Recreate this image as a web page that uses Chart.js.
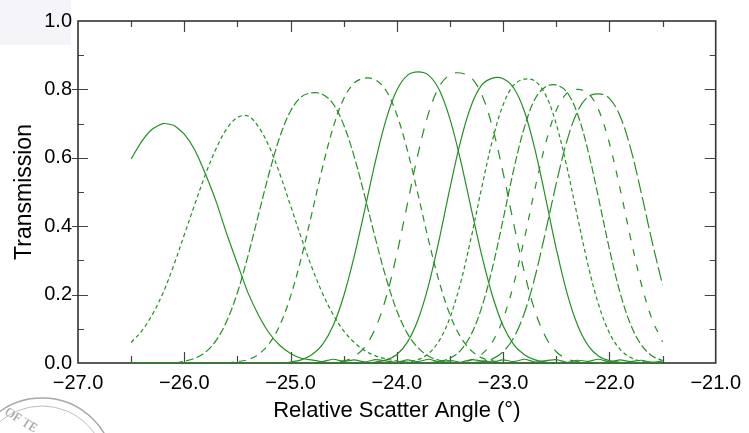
<!DOCTYPE html>
<html>
<head>
<meta charset="utf-8">
<title>Transmission vs relative scatter angle</title>
<script src="https://cdn.jsdelivr.net/npm/chart.js@4"></script>
<style>
    body { margin: 0; padding: 0; background: #fff; }
    #wrap { position: relative; width: 749px; height: 433px; overflow: hidden; }
    .corner { position: absolute; left: 0; top: 0; width: 71px; height: 45px; background: #f5f5f9; }
    #seal { position: absolute; left: 0; top: 0; }
    #chart { position: absolute; left: 0; top: 0; }
</style>
</head>
<body>
<div id="wrap">
    <div class="corner"></div>
    <svg id="seal" width="749" height="433">
        <circle cx="42" cy="470" r="72" fill="none" stroke="#a8a8a8" stroke-width="1.5"/>
        <circle cx="42" cy="470" r="64" fill="none" stroke="#bdbdbd" stroke-width="1"/>
        <text x="4" y="414" font-family="Liberation Serif" font-size="13" fill="#9a9a9a" transform="rotate(32 4 414)">OF TE</text>
    </svg>
    <canvas id="chart" width="749" height="433"></canvas>
</div>

<script>
    // angle grid (degrees), every 0.1 from -26.5 to -21.5
    var angles = [-26.5,-26.4,-26.3,-26.2,-26.1,-26.0,-25.9,-25.8,-25.7,-25.6,
                  -25.5,-25.4,-25.3,-25.2,-25.1,-25.0,-24.9,-24.8,-24.7,-24.6,
                  -24.5,-24.4,-24.3,-24.2,-24.1,-24.0,-23.9,-23.8,-23.7,-23.6,
                  -23.5,-23.4,-23.3,-23.2,-23.1,-23.0,-22.9,-22.8,-22.7,-22.6,
                  -22.5,-22.4,-22.3,-22.2,-22.1,-22.0,-21.9,-21.8,-21.7,-21.6,
                  -21.5];

    // transmission of each setting
    var curve1 = [0.597,0.648,0.684,0.700,0.695,0.669,0.622,0.552,0.472,0.377,
                  0.290,0.205,0.139,0.087,0.051,0.028,0.014,0.009,0.004,0.011,
                  0.005,0.009,0.003,0.010,0.006,0.002,0.009,0.004,0.011,0.003,
                  0.008,0.002,0.010,0.006,0.003,0.009,0.004,0.011,0.003,0.007,
                  0.010,0.002,0.008,0.005,0.011,0.003,0.009,0.004,0.008,0.002,
                  0.006];
    var curve2 = [0.060,0.094,0.142,0.205,0.285,0.375,0.465,0.552,0.627,0.685,
                  0.718,0.722,0.690,0.632,0.552,0.460,0.367,0.280,0.204,0.142,
                  0.094,0.060,0.036,0.021,0.012,0.006,0.003,0,0,0,
                  0,0,0,0,0,0,0,0,0,0,
                  0,0,0,0,0,0,0,0,0,0,
                  0];
    var curve3 = [0,0,0,0,0,0.005,0.014,0.032,0.066,0.123,
                  0.206,0.314,0.436,0.557,0.662,0.737,0.778,0.790,0.786,0.758,
                  0.696,0.602,0.485,0.362,0.247,0.153,0.086,0.044,0.020,0.008,
                  0.003,0,0,0,0,0,0,0,0,0,
                  0,0,0,0,0,0,0,0,0,0,
                  0];
    var curve4 = [0,0,0,0,0,0,0,0,0,0,
                  0.004,0.010,0.026,0.057,0.111,0.195,0.306,0.437,0.571,0.688,
                  0.773,0.819,0.833,0.828,0.796,0.726,0.621,0.492,0.357,0.236,
                  0.141,0.076,0.036,0.015,0.006,0.002,0,0,0,0,
                  0,0,0,0,0,0,0,0,0,0,
                  0];
    var curve5 = [0,0,0,0,0,0,0,0,0,0,
                  0,0,0,0,0,0.003,0.009,0.024,0.054,0.109,
                  0.196,0.313,0.451,0.592,0.713,0.798,0.841,0.851,0.841,0.798,
                  0.713,0.592,0.451,0.313,0.196,0.109,0.054,0.024,0.009,0.003,
                  0,0,0,0,0,0,0,0,0,0,
                  0];
    var curve6 = [0,0,0,0,0,0,0,0,0,0,
                  0,0,0,0,0,0,0,0,0,0.002,
                  0.006,0.019,0.047,0.103,0.193,0.319,0.466,0.612,0.732,0.809,
                  0.843,0.848,0.834,0.784,0.689,0.556,0.406,0.265,0.152,0.076,
                  0.033,0.012,0.004,0,0,0,0,0,0,0,
                  0];
    var curve7 = [0,0,0,0,0,0,0,0,0,0,
                  0,0,0,0,0,0,0,0,0,0,
                  0,0,0,0.003,0.009,0.025,0.061,0.127,0.229,0.363,
                  0.512,0.649,0.753,0.813,0.833,0.831,0.804,0.736,0.624,0.482,
                  0.334,0.206,0.111,0.051,0.020,0.007,0.002,0,0,0,
                  0];
    var curve8 = [0,0,0,0,0,0,0,0,0,0,
                  0,0,0,0,0,0,0,0,0,0,
                  0,0,0,0,0,0,0.003,0.010,0.028,0.066,
                  0.133,0.235,0.368,0.515,0.652,0.755,0.813,0.830,0.824,0.784,
                  0.698,0.573,0.427,0.285,0.169,0.088,0.040,0.016,0.005,0.002,
                  0.001];
    var curve9 = [0,0,0,0,0,0,0,0,0,0,
                  0,0,0,0,0,0,0,0,0,0,
                  0,0,0,0,0,0,0,0,0.001,0.005,
                  0.014,0.037,0.084,0.164,0.279,0.420,0.566,0.689,0.772,0.808,
                  0.813,0.792,0.728,0.619,0.479,0.333,0.206,0.112,0.053,0.021,
                  0.007];
    var curve10 = [0,0,0,0,0,0,0,0,0,0,
                   0,0,0,0,0,0,0,0,0,0,
                   0,0,0,0,0,0,0,0,0,0,
                   0.001,0.003,0.009,0.026,0.062,0.129,0.231,0.364,0.510,0.642,
                   0.739,0.789,0.800,0.789,0.739,0.642,0.510,0.364,0.231,0.129,
                   0.062];
    var curve11 = [0,0,0,0,0,0,0,0,0,0,
                   0,0,0,0,0,0,0,0,0,0,
                   0,0,0,0,0,0,0,0,0,0,
                   0,0,0.001,0.004,0.012,0.033,0.074,0.146,0.252,0.385,
                   0.525,0.649,0.736,0.779,0.787,0.774,0.722,0.627,0.497,0.357,
                   0.228];

    var curves = [curve1, curve2, curve3, curve4, curve5, curve6, curve7, curve8, curve9, curve10, curve11];
    var dashes = [[], [4,3], [8,3], [7,5], [], [10,9], [], [4,3], [8,3], [7,9], [14,4]];

    var xTickLabels = [-27, -26, -25, -24, -23, -22, -21];
    var yTickLabels = [0, 0.2, 0.4, 0.6, 0.8, 1.0];

    var green = '#229022';

    var datasets = curves.map(function (c, k) {
        return {
            label: 'setting ' + (k + 1),
            data: angles.map(function (a, i) { return { x: a, y: c[i] }; }),
            borderColor: green,
            borderWidth: 1.2,
            borderDash: dashes[k],
            pointRadius: 0,
            tension: k === 0 ? 0.2 : 0.35,
            fill: false
        };
    });

    // frame with inward ticks on all four sides, like the original plot
    var frameTicks = {
        id: 'frameTicks',
        beforeDatasetsDraw: function (chart) {
            var ctx = chart.ctx, a = chart.chartArea;
            var x = chart.scales.x, y = chart.scales.y;
            ctx.save();
            ctx.strokeStyle = '#444';
            ctx.lineWidth = 1.2;
            ctx.beginPath();
            for (var v = -26.5; v < -21; v += 0.5) {
                var px = Math.round(x.getPixelForValue(v)) + 0.5;
                var major = Math.abs(v - Math.round(v)) < 1e-6;
                ctx.moveTo(px, a.bottom); ctx.lineTo(px, a.bottom - (major ? 11 : 7));
                ctx.moveTo(px, a.top); ctx.lineTo(px, a.top + (major ? 11 : 6));
            }
            for (var j = 1; j < 10; j++) {
                var py = Math.round(y.getPixelForValue(j / 10)) + 0.5;
                var maj = j % 2 === 0;
                ctx.moveTo(a.left - (maj ? 6 : 0), py); ctx.lineTo(a.left + (maj ? 10 : 6), py);
                ctx.moveTo(a.right, py); ctx.lineTo(a.right - (maj ? 11 : 6), py);
            }
            ctx.stroke();
            ctx.strokeStyle = '#333';
            ctx.lineWidth = 1.6;
            ctx.strokeRect(a.left, a.top, a.right - a.left, a.bottom - a.top);
            ctx.restore();
        }
    };

    new Chart(document.getElementById('chart'), {
        type: 'line',
        data: { datasets: datasets },
        options: {
            responsive: false,
            animation: false,
            layout: { padding: { top: 21, right: 31, left: 0, bottom: 0 } },
            plugins: { legend: { display: false }, tooltip: { enabled: false } },
            scales: {
                x: {
                    type: 'linear',
                    min: -27, max: -21,
                    afterFit: function (s) { s.height = 70; },
                    afterBuildTicks: function (s) { s.ticks = xTickLabels.map(function (v) { return { value: v }; }); },
                    grid: { display: false, drawTicks: false },
                    border: { display: false },
                    ticks: {
                        padding: 8,
                        color: '#000',
                        font: { family: 'Liberation Sans', size: 20 },
                        callback: function (v) { return (v < 0 ? '\u2212' : '') + Math.abs(v).toFixed(1); }
                    },
                    title: {
                        display: true,
                        text: 'Relative Scatter Angle (°)',
                        color: '#000',
                        font: { family: 'Liberation Sans', size: 22 },
                        padding: { top: 0, bottom: 9 }
                    }
                },
                y: {
                    min: 0, max: 1,
                    afterFit: function (s) { s.width = 78; },
                    afterBuildTicks: function (s) { s.ticks = yTickLabels.map(function (v) { return { value: v }; }); },
                    grid: { display: false, drawTicks: false },
                    border: { display: false },
                    ticks: {
                        padding: 6,
                        color: '#000',
                        font: { family: 'Liberation Sans', size: 20 },
                        callback: function (v) { return v.toFixed(1); }
                    },
                    title: {
                        display: true,
                        text: 'Transmission',
                        color: '#000',
                        font: { family: 'Liberation Sans', size: 23 },
                        padding: { top: 11, bottom: 0 }
                    }
                }
            }
        },
        plugins: [frameTicks]
    });
</script>
</body>
</html>
